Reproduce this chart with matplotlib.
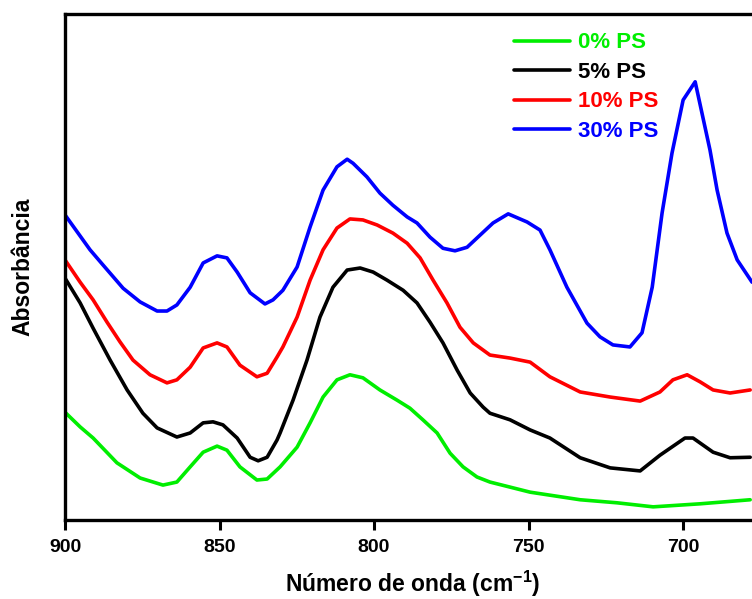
import matplotlib
matplotlib.use("Agg")
import matplotlib.pyplot as plt

# FTIR spectra, 900-675 cm-1, absorbance in arbitrary units (curves offset)
WN_30 = [900.0, 891.9, 887.7, 881.2, 875.7, 870.2, 867.0, 863.8, 859.5, 855.3, 850.8,
         847.6, 844.3, 840.1, 835.3, 832.7, 829.5, 824.9, 820.7, 816.5, 812.0, 808.7,
         806.8, 802.3, 798.1, 793.9, 789.3, 786.1, 781.9, 777.7, 773.8, 769.9, 765.7,
         761.5, 756.6, 750.5, 746.3, 743.1, 737.6, 731.1, 726.9, 722.7, 717.2, 713.3,
         710.0, 706.8, 703.6, 700.0, 696.1, 691.3, 689.0, 685.8, 682.5, 677.7]
ABS_30 = [0.603, 0.534, 0.504, 0.458, 0.431, 0.413, 0.413, 0.425, 0.460, 0.508, 0.522,
          0.518, 0.490, 0.449, 0.427, 0.435, 0.454, 0.500, 0.579, 0.652, 0.698, 0.713,
          0.705, 0.678, 0.646, 0.622, 0.599, 0.587, 0.559, 0.537, 0.532, 0.539, 0.563,
          0.587, 0.605, 0.589, 0.573, 0.534, 0.460, 0.389, 0.362, 0.346, 0.342, 0.370,
          0.460, 0.607, 0.725, 0.830, 0.866, 0.731, 0.652, 0.567, 0.514, 0.470]

WN_10 = [900.0, 895.1, 890.9, 886.4, 882.2, 878.0, 872.5, 867.0, 863.8, 859.5, 855.3,
         850.8, 847.6, 843.4, 837.9, 834.6, 831.4, 829.5, 824.9, 820.7, 816.5, 812.0,
         807.8, 803.6, 799.0, 793.9, 789.3, 785.1, 780.9, 776.4, 772.2, 767.9, 762.5,
         756.0, 749.5, 743.1, 733.3, 723.6, 713.9, 707.5, 703.3, 698.7, 694.5, 690.3,
         684.8, 678.3]
ABS_10 = [0.514, 0.470, 0.435, 0.391, 0.352, 0.316, 0.287, 0.271, 0.277, 0.302, 0.340,
          0.350, 0.342, 0.306, 0.283, 0.290, 0.322, 0.342, 0.401, 0.474, 0.534, 0.577,
          0.595, 0.593, 0.583, 0.567, 0.547, 0.518, 0.474, 0.429, 0.381, 0.350, 0.326,
          0.320, 0.312, 0.283, 0.253, 0.243, 0.235, 0.253, 0.277, 0.287, 0.273, 0.257,
          0.251, 0.257]

WN_5 = [900.0, 895.1, 890.9, 885.4, 879.9, 874.8, 870.2, 863.8, 859.5, 855.3, 852.1,
        848.9, 844.3, 840.1, 837.5, 834.6, 831.4, 830.4, 826.2, 821.7, 817.5, 813.3,
        808.7, 804.5, 800.3, 795.8, 790.6, 786.1, 781.9, 777.7, 773.1, 768.9, 764.7,
        762.5, 756.0, 749.5, 743.1, 733.3, 723.6, 713.9, 707.5, 699.4, 696.8, 690.3,
        684.8, 678.3]
ABS_5 = [0.478, 0.429, 0.379, 0.316, 0.257, 0.211, 0.182, 0.164, 0.172, 0.192, 0.194,
         0.188, 0.162, 0.124, 0.117, 0.124, 0.158, 0.172, 0.237, 0.316, 0.401, 0.460,
         0.494, 0.498, 0.490, 0.474, 0.454, 0.429, 0.391, 0.350, 0.296, 0.251, 0.223,
         0.211, 0.198, 0.178, 0.162, 0.123, 0.103, 0.097, 0.128, 0.162, 0.162, 0.134,
         0.123, 0.124]

WN_0 = [900.0, 895.1, 890.9, 883.2, 875.7, 868.3, 863.8, 859.5, 855.3, 850.8, 847.6,
        843.4, 837.9, 834.6, 830.4, 824.9, 820.7, 816.5, 812.0, 807.8, 803.6, 798.1,
        792.6, 788.4, 784.2, 779.6, 775.4, 771.2, 766.7, 762.5, 756.0, 749.5, 733.3,
        721.4, 709.7, 694.5, 678.3]
ABS_0 = [0.213, 0.184, 0.162, 0.113, 0.083, 0.069, 0.075, 0.105, 0.134, 0.146, 0.138,
         0.105, 0.079, 0.081, 0.105, 0.144, 0.192, 0.243, 0.277, 0.287, 0.281, 0.257,
         0.237, 0.221, 0.198, 0.172, 0.132, 0.105, 0.085, 0.075, 0.065, 0.055, 0.040,
         0.034, 0.026, 0.032, 0.040]

SERIES = [
    ("0% PS", WN_0, ABS_0, "#00ee00"),
    ("5% PS", WN_5, ABS_5, "#000000"),
    ("10% PS", WN_10, ABS_10, "#ff0000"),
    ("30% PS", WN_30, ABS_30, "#0000ff"),
]

plt.rcParams["font.family"] = ["Liberation Sans", "DejaVu Sans"]
plt.rcParams["font.weight"] = "bold"
plt.rcParams["mathtext.fontset"] = "custom"
plt.rcParams["mathtext.rm"] = "Liberation Sans:bold"
plt.rcParams["mathtext.bf"] = "Liberation Sans:bold"

fig = plt.figure(figsize=(7.52, 5.99), dpi=100)
# axes run past the right edge of the figure, so the right spine is cut off
ax = fig.add_axes([65 / 752, 1 - 520 / 599, 696 / 752, 506 / 599])

for label, wn, ab, color in SERIES:
    ax.plot(wn, ab, color=color, lw=2.6, label=label,
            solid_joinstyle="round", solid_capstyle="round")

ax.set_xlim(900, 674.8)
ax.set_ylim(0, 1)
ax.set_xticks([900, 850, 800, 750, 700])
ax.set_yticks([])
ax.tick_params(axis="x", direction="out", length=7, width=2.2, labelsize=14, pad=7)
for lbl in ax.get_xticklabels():
    lbl.set_fontweight("bold")
for side in ("left", "bottom", "top", "right"):
    ax.spines[side].set_linewidth(2.4)

ax.set_xlabel("Número de onda (cm$^{-1}$)", fontsize=16.5, fontweight="bold", labelpad=9)
ax.set_ylabel("Absorbância", fontsize=16.5, fontweight="bold", labelpad=22)

ax.legend(loc="upper left", bbox_to_anchor=(0.617, 1.003), frameon=False,
          handlelength=2.5, handletextpad=0.35, labelspacing=0.38,
          labelcolor="linecolor", prop={"weight": "bold", "size": 16})

fig.savefig("out.png", dpi=100)
